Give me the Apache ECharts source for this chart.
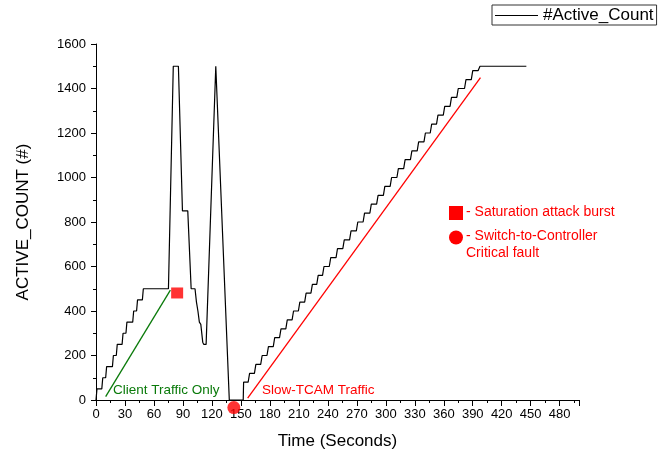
<!DOCTYPE html>
<html>
<head>
<meta charset="utf-8">
<script src="https://cdn.jsdelivr.net/npm/echarts@6/dist/echarts.min.js"></script>
<style>
html,body{margin:0;padding:0;background:#fff;}
#chart{width:662px;height:461px;}
</style>
</head>
<body>
<div id="chart"></div>
<script>
// ---- data ----
const activeTime = [0,1,6,7,10,11,17,18,21,22,27,28,31,32,38,39,42,43,48,49,75,80,85.3,89.5,95,98.5,102.5,104,105.5,107,108.5,110.5,111.5,114,124,138,
  152.4,152.8,157.5,159,164,165.5,170.5,172,177,178.5,183.5,185,190,191.5,196.5,198,203,204.5,209.5,211,216,217.5,222.5,224,228.5,230,234.5,236,
  241.5,243,248.5,250,255.5,257,262.5,264,269.5,271,276.5,278,283.5,285,290.5,292,297.5,299,304.5,306,311.5,313,318.5,320,
  325.5,327,332.5,334,339.5,341,346,347.5,352.5,354,359.5,361,366.5,368,373.5,375,381.5,383,388.5,390,395.5,397.5,445.5];
const activeCount = [0,50,50,100,100,150,150,200,200,250,250,300,300,350,350,400,400,450,450,500,500,1500,1500,850,850,500,500,440,400,350,340,260,250,250,1500,0,
  0,80,80,120,120,160,160,200,200,240,240,280,280,320,320,360,360,400,400,440,440,480,480,520,520,560,560,600,
  600,640,640,680,680,720,720,760,760,800,800,840,840,880,880,920,920,960,960,1000,1000,1040,1040,1080,
  1080,1120,1120,1160,1160,1200,1200,1240,1240,1280,1280,1320,1320,1360,1360,1400,1400,1440,1440,1480,1480,1500,1500];
const clientTime = [10,77];
const clientCount = [15,494];
const slowTime = [157,398];
const slowCount = [8,1449];
const burstPoint = [84,481];
const faultPoint = [142.7,-34];
const xTicks = {min:0,max:500,interval:30};
const yTicks = {min:0,max:1600,interval:200};

const zip = (a,b) => a.map((v,i)=>[v,b[i]]);
const FONT = "'Liberation Sans', Arial, sans-serif";
const chart = echarts.init(document.getElementById('chart'));
chart.setOption({
  animation:false,
  backgroundColor:'#ffffff',
  textStyle:{fontFamily:FONT},
  grid:{left:96,top:44,width:483,height:356},
  legend:{
    data:['#Active_Count'], left:492, top:5,
    padding:[2,3,1,3], borderColor:'#333', borderWidth:1,
    icon:'rect', itemWidth:43, itemHeight:1, itemGap:4,
    textStyle:{fontFamily:FONT,fontSize:17,color:'#000'}
  },
  xAxis:{
    type:'value', min:xTicks.min, max:xTicks.max, interval:xTicks.interval,
    name:'Time (Seconds)', nameLocation:'middle', nameGap:33,
    nameTextStyle:{fontFamily:FONT,fontSize:17,color:'#000'},
    axisLine:{lineStyle:{color:'#000',width:1}},
    axisTick:{length:6,lineStyle:{color:'#000'}},
    minorTick:{show:true,splitNumber:2,length:3,lineStyle:{color:'#000'}},
    axisLabel:{fontFamily:FONT,fontSize:13,color:'#000',margin:8,showMaxLabel:false,formatter:v=>String(v)},
    splitLine:{show:false}
  },
  yAxis:{
    type:'value', min:yTicks.min, max:yTicks.max, interval:yTicks.interval,
    name:'ACTIVE_COUNT (#)', nameLocation:'middle', nameGap:64,
    nameTextStyle:{fontFamily:FONT,fontSize:17,color:'#000'},
    axisLine:{show:true,lineStyle:{color:'#000',width:1}},
    axisTick:{show:true,length:5,lineStyle:{color:'#000'}},
    minorTick:{show:true,splitNumber:2,length:3,lineStyle:{color:'#000'}},
    axisLabel:{fontFamily:FONT,fontSize:13,color:'#000',margin:10,formatter:v=>String(v)},
    splitLine:{show:false}
  },
  series:[
    {name:'#Active_Count',type:'line',data:zip(activeTime,activeCount),showSymbol:false,
     lineStyle:{color:'#000',width:1.2},itemStyle:{color:'#000'},z:3},
    {name:'client',type:'line',data:zip(clientTime,clientCount),showSymbol:false,
     lineStyle:{color:'#0a7a0a',width:1.3},z:2},
    {name:'slow',type:'line',data:zip(slowTime,slowCount),showSymbol:false,
     lineStyle:{color:'#ff0000',width:1.3},z:2},
    {name:'burst',type:'scatter',data:[burstPoint],symbol:'rect',symbolSize:[12,11],
     itemStyle:{color:'#ff0000'},clip:false,z:5},
    {name:'fault',type:'scatter',data:[faultPoint],symbol:'circle',symbolSize:13,
     itemStyle:{color:'#ff0000'},clip:false,z:5}
  ],
  graphic:[
    {type:'text',left:113,top:383,style:{text:'Client Traffic Only',fill:'#0a7a0a',font:"13.5px 'Liberation Sans', Arial"}},
    {type:'text',left:262,top:383,style:{text:'Slow-TCAM Traffic',fill:'#ff0000',font:"13.5px 'Liberation Sans', Arial"}},
    {type:'rect',shape:{x:449,y:206,width:14,height:14},style:{fill:'#ff0000'}},
    {type:'text',left:466,top:205,style:{text:'- Saturation attack burst',fill:'#ff0000',font:"14px 'Liberation Sans', Arial"}},
    {type:'circle',shape:{cx:456,cy:237.5,r:7},style:{fill:'#ff0000'}},
    {type:'text',left:466,top:229,style:{text:'- Switch-to-Controller',fill:'#ff0000',font:"14px 'Liberation Sans', Arial"}},
    {type:'text',left:466,top:246,style:{text:'Critical fault',fill:'#ff0000',font:"14px 'Liberation Sans', Arial"}}
  ]
});
</script>
</body>
</html>
